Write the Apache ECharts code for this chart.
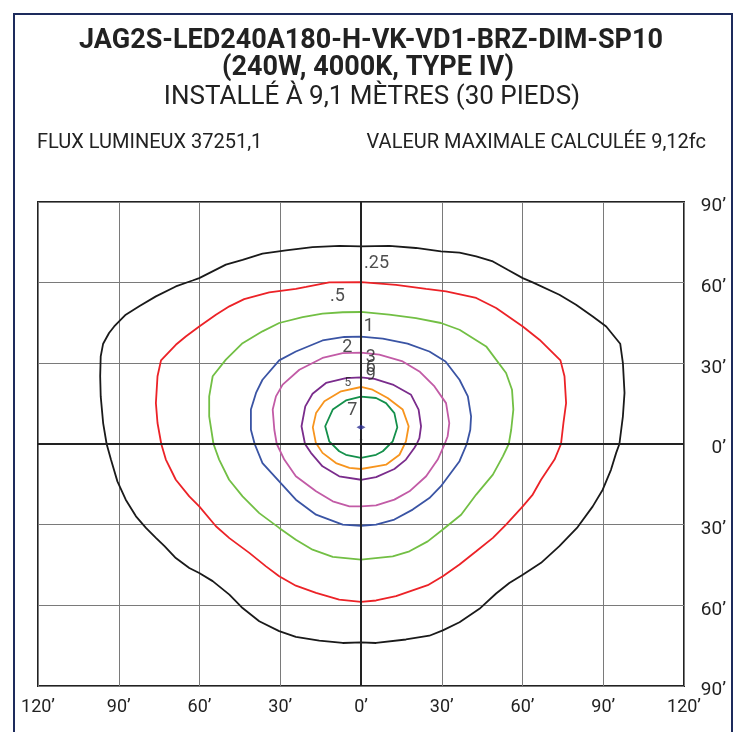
<!DOCTYPE html>
<html>
<head>
<meta charset="utf-8">
<script src="https://cdn.jsdelivr.net/npm/echarts@6/dist/echarts.min.js"></script>
<style>html,body{margin:0;padding:0;background:#fff}#c{width:738px;height:732px}</style>
</head>
<body>
<div id="c"></div>
<script>
// ---- data ----
const xTicks = [-120, -90, -60, -30, 0, 30, 60, 90, 120];
const yTicks = [-90, -60, -30, 0, 30, 60, 90];
const levelNames = ['.25', '.5', '1', '2', '3', '5', '6', '7'];

const iso025 = [[0,73.5],[10.5,73.7],[20.4,72.9],[29.7,71.6],[36.6,71.2],[42.8,69.8],[49,67.9],[54.5,64.8],[60.1,61.7],[63.8,60.1],[73.7,55.5],[79.9,51.8],[86.1,47.4],[91.1,43.7],[96.3,37.3],[97.3,30.1],[97.9,19],[97.3,10.3],[96.0,0],[94.8,-3.3],[92.9,-9.5],[89.8,-17],[86.1,-23.2],[80.5,-30.9],[73.7,-38],[66.9,-44.2],[60.1,-48.6],[55.1,-51.7],[50.2,-55.6],[44,-61.3],[36.6,-66.3],[30.4,-69.3],[25.4,-71.3],[16.7,-72.7],[5.6,-74],[0,-73.8],[-6.8,-74],[-15.5,-73.1],[-24.2,-71.7],[-30.4,-69.6],[-37.8,-65.9],[-44,-61],[-48.9,-56],[-55.1,-51],[-60.1,-48],[-63.8,-46.1],[-68.8,-42.4],[-73,-38],[-76.2,-34.9],[-79.9,-31.2],[-83.6,-26.9],[-87.4,-20.7],[-90.5,-13.9],[-92.9,-5.8],[-94.5,0],[-95.8,7.8],[-96.7,17.7],[-96.9,25.2],[-96.7,32.6],[-95.8,37.3],[-93.6,41.3],[-91.7,43.7],[-87.4,48.1],[-82.4,51.2],[-76.2,54.9],[-68.8,58.6],[-62.6,60.8],[-60.1,61.7],[-50.2,66.7],[-44,68.5],[-36.6,70.8],[-27.9,72],[-18,73.2],[-8,73.7],[0,73.5]];
const iso05 = [[0,60.2],[13,59.2],[24.2,57.7],[31.6,56.8],[42.8,54.3],[50.2,50.6],[60.1,43.7],[66.3,38.8],[74.1,31.1],[75.6,25.2],[76.2,15.2],[75.2,7.8],[74.3,0],[71.9,-5.8],[66.9,-13.3],[63.8,-18.8],[60.1,-23.2],[53.9,-30],[49,-34.9],[42.8,-39.9],[36.6,-44.8],[30.4,-49.2],[24.8,-52.5],[13,-56.6],[5.6,-58.2],[0,-58.7],[-8.1,-57.9],[-16.7,-55.4],[-24.2,-52.7],[-30.4,-49.2],[-35.3,-45.5],[-41.5,-40.5],[-48.9,-35],[-53.9,-30.6],[-60.1,-23.2],[-63.8,-19.5],[-68.8,-13.3],[-72.5,-5.8],[-74.2,0],[-75.6,7.8],[-76.2,15.2],[-75.6,25.2],[-74.3,31.1],[-68.8,36.9],[-65.1,40],[-60.1,43.7],[-53.9,48.1],[-48.9,51.2],[-43.4,53.9],[-34.1,56.4],[-24.2,57.7],[-20.4,58.4],[-11.8,60.1],[0,60.2]];
const iso1 = [[0,49.1],[10.5,48.1],[20.4,46.8],[29.7,45],[36.6,42.5],[46.5,36.3],[53.9,26.4],[56.1,20.2],[56.6,12.8],[55.8,5.3],[54.9,0],[52.7,-4.6],[49,-11.4],[42.8,-18.8],[37.2,-26.3],[30.4,-31.8],[24.8,-36.2],[18,-39.9],[11.8,-41.8],[0,-43],[-10.5,-42],[-18,-39.3],[-24.2,-35.6],[-30.4,-31.2],[-37.8,-25.7],[-44,-19.5],[-49,-13.3],[-52.7,-5.8],[-54.8,0],[-56.4,10.3],[-56.4,17.7],[-55.1,25.2],[-50.2,31.4],[-44,37.5],[-36.6,41.9],[-30.4,45],[-21.7,47.2],[-14.3,48.5],[-6.8,49],[0,49.1]];
const iso2 = [[0,39.9],[8.1,39.2],[17.3,37.3],[25.4,34.4],[31.4,30.7],[36.6,23.9],[39.7,17.7],[40.9,10.3],[40.6,5.3],[39.3,0],[36.6,-6.4],[29.7,-15.7],[25.4,-20.1],[19.2,-24.4],[12.4,-28.1],[5.6,-30],[0,-30.4],[-6.8,-30],[-16.7,-26.3],[-24.2,-20.7],[-30.4,-13.9],[-36.6,-7.1],[-39.5,0],[-40.9,5.3],[-40.9,12.8],[-39,19],[-36.6,23.9],[-30.4,31.1],[-24.2,34.4],[-14.3,38.5],[-6.2,39.8],[0,39.9]];
const iso3 = [[0,34],[6.8,33.2],[15.5,30.7],[21.7,27],[27.3,21.4],[31.6,15.2],[32.8,7.8],[32.2,2.9],[31.1,0],[28.5,-5.8],[24.2,-12],[18,-17.6],[12.4,-20.7],[5.6,-22.8],[0,-23.2],[-4.3,-23.2],[-10.5,-21.3],[-16.7,-17.6],[-24.2,-12],[-28.5,-5.8],[-31.3,0],[-32.2,5.3],[-32.8,12.8],[-31.6,17.7],[-29.1,22.1],[-22.9,27.6],[-14.3,32],[-6.8,33.8],[0,34]];
const iso5 = [[0,24.8],[5,24.2],[11.8,22.1],[18.6,18.3],[21.4,12.8],[22.3,6.6],[21.7,2.2],[20.7,0],[19.8,-1.5],[16.7,-5.8],[12.4,-9.3],[5.6,-12.3],[0,-13.3],[-8.1,-12],[-14.3,-8.3],[-18.6,-3.3],[-20.8,0],[-22.1,6.6],[-20.7,14],[-18,18.7],[-13,22.7],[-5.6,24.5],[0,24.8]];
const iso6 = [[0,21.2],[4.3,20.2],[9.9,17.1],[15.5,12.8],[17.7,6.6],[16.7,1],[14.3,-4],[9.3,-7.7],[6.2,-8.2],[0,-9.3],[-4.3,-8.9],[-9.3,-7.1],[-14.3,-3.3],[-16.8,0.5],[-17.9,6.2],[-16.7,11.5],[-13.6,15.9],[-7.4,19.6],[0,21.2]];
const iso7 = [[0,17.6],[5.6,17.1],[9.3,15.2],[12.4,11.5],[13.5,6.2],[11.8,1],[8.1,-2.7],[5.6,-4],[0,-5.2],[-5.6,-4],[-8.1,-2.7],[-11.8,1],[-13.3,6.6],[-10.5,12.8],[-5.6,16.2],[0,17.6]];

const maxPoint = [[0, 6.2]];
const nadirPoint = [[0, 1.6]];

// contour text labels: [x, y, text, size]
const isoLabels = [
  [5.8, 67.2, '.25', 18],
  [-8.8, 55.0, '.5', 18],
  [2.9, 43.7, '1', 18],
  [-5.1, 36.0, '2', 18],
  [3.6, 32.2, '3', 18],
  [3.6, 28.4, '6', 18],
  [3.6, 25.4, '9', 18],
  [-4.9, 22.6, '5', 12],
  [-3.2, 12.6, '7', 18]
];

const titleLines = ['JAG2S-LED240A180-H-VK-VD1-BRZ-DIM-SP10', '(240W, 4000K, TYPE IV)', 'INSTALLÉ À 9,1 MÈTRES (30 PIEDS)'];
const infoLeft = 'FLUX LUMINEUX 37251,1';
const infoRight = 'VALEUR MAXIMALE CALCULÉE 9,12fc';

// ---- chart ----
const FONT = 'Roboto, "Noto Sans", sans-serif';
const contours = [
  [iso025, '#1a1a1a'], [iso05, '#ec2227'], [iso1, '#72bf44'], [iso2, '#3a54a4'],
  [iso3, '#c25ba6'], [iso5, '#7a2c8c'], [iso6, '#f7941d'], [iso7, '#14904b']
];
const series = contours.map((c, i) => ({
  type: 'line', name: levelNames[i], data: c[0], showSymbol: false, symbol: 'none',
  smooth: false, lineStyle: { color: c[1], width: 1.8 }, z: 3, silent: true
}));
series.push({
  type: 'line', data: [], silent: true, z: 2,
  markLine: {
    symbol: 'none', silent: true, label: { show: false },
    lineStyle: { color: '#222', width: 2, type: 'solid' },
    data: [{ xAxis: 0 }, { yAxis: 0 }]
  }
});
series.push({
  type: 'scatter', data: maxPoint, symbol: 'diamond', symbolSize: [9, 5],
  itemStyle: { color: '#2e3192' }, z: 5, silent: true
});
series.push({
  type: 'scatter', data: nadirPoint, symbol: 'circle', symbolSize: 2.5,
  itemStyle: { color: '#222' }, z: 5, silent: true
});
series.push({
  type: 'scatter', symbolSize: 0, z: 6, silent: true,
  data: isoLabels.map(l => ({ value: [l[0], l[1]], name: l[2], label: { fontSize: l[3] } })),
  label: {
    show: true, position: 'inside', formatter: p => p.name,
    color: '#222', fontFamily: FONT, fontSize: 18
  }
});

const chart = echarts.init(document.getElementById('c'), null, { renderer: 'canvas' });
chart.setOption({
  animation: false,
  backgroundColor: '#fff',
  grid: { left: 38, top: 202, width: 646, height: 484, show: true, borderColor: '#222', borderWidth: 2, backgroundColor: 'transparent', containLabel: false },
  xAxis: {
    type: 'value', min: -120, max: 120, interval: 30, position: 'bottom',
    axisLine: { show: false, onZero: false }, axisTick: { show: false },
    splitLine: { show: true, lineStyle: { color: '#7a7a7a', width: 1 } },
    axisLabel: { show: true, margin: 12, fontSize: 18, color: '#222', fontFamily: FONT,
      formatter: v => Math.abs(v) + '\u2019', showMinLabel: true, showMaxLabel: true }
  },
  yAxis: {
    type: 'value', min: -90, max: 90, interval: 30, position: 'right',
    axisLine: { show: false, onZero: false }, axisTick: { show: false },
    splitLine: { show: true, lineStyle: { color: '#7a7a7a', width: 1 } },
    axisLabel: { show: true, margin: 42, align: 'right', fontSize: 19, color: '#222', fontFamily: FONT,
      formatter: v => '{a|' + Math.abs(v) + '\u2019}',
      rich: { a: { fontSize: 19, color: '#222', fontFamily: FONT, padding: [9, 0, 0, 0] } },
      showMinLabel: true, showMaxLabel: true }
  },
  graphic: [
    { type: 'rect', shape: { x: 14, y: 14, width: 718, height: 740 }, style: { fill: 'none', stroke: '#1d2b5c', lineWidth: 2 }, silent: true },
    { type: 'text', x: 371, y: 41, style: { text: titleLines[0], fontFamily: FONT, fontWeight: 'bold', fontSize: 27, fill: '#222', align: 'center', verticalAlign: 'middle' } },
    { type: 'text', x: 368, y: 68.5, style: { text: titleLines[1], fontFamily: FONT, fontWeight: 'bold', fontSize: 27, fill: '#222', align: 'center', verticalAlign: 'middle' } },
    { type: 'text', x: 372, y: 97.5, style: { text: titleLines[2], fontFamily: FONT, fontWeight: 'normal', fontSize: 26, fill: '#222', align: 'center', verticalAlign: 'middle' } },
    { type: 'text', x: 37, y: 143, style: { text: infoLeft, fontFamily: FONT, fontSize: 20, fill: '#222', align: 'left', verticalAlign: 'middle' } },
    { type: 'text', x: 706, y: 143, style: { text: infoRight, fontFamily: FONT, fontSize: 20, fill: '#222', align: 'right', verticalAlign: 'middle' } }
  ],
  series: series
});
</script>
</body>
</html>
